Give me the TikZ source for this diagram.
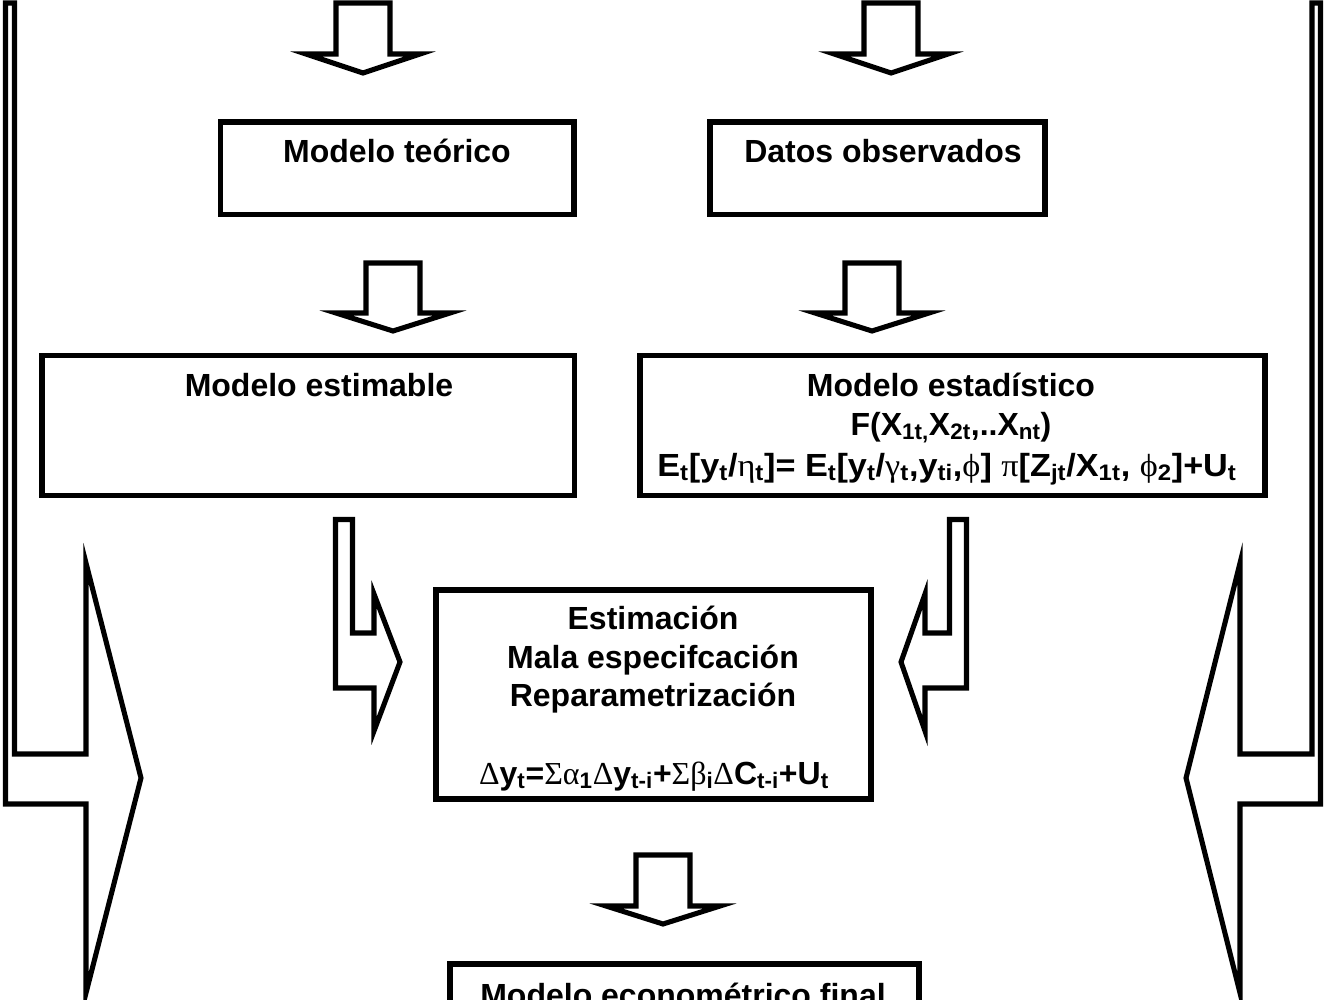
\documentclass[tikz,border=0pt]{standalone}
\usepackage{fontspec}
\setmainfont{Liberation Sans}
\newfontfamily\grk{Liberation Serif}
\newcommand{\sbs}[1]{\textsubscript{#1}}
\newcommand{\gk}[1]{{\grk\mdseries #1}}
\begin{document}
\begin{tikzpicture}[x=0.75pt,y=-0.75pt,
  box/.style={draw, line width=3.8pt, rectangle, inner sep=0pt},
  blk/.style={draw, line width=3.8pt, line join=miter, fill=white},
  txt/.style={anchor=base, inner sep=0pt, font=\fontsize{24}{30}\selectfont\bfseries}]
\useasboundingbox (0,0) rectangle (1326,999);
\clip (0,0) rectangle (1326,999);

% big side arrows
\draw[blk] (5.5,3) -- (5.5,804) -- (86,804) -- (86,993) -- (141,778) -- (86,563) -- (86,754) -- (14.5,754) -- (14.5,3) -- cycle;
\draw[blk] (1320.5,3) -- (1320.5,804) -- (1240,804) -- (1240,993) -- (1186,778) -- (1240,563) -- (1240,754) -- (1312,754) -- (1312,3) -- cycle;

% boxes
\node[box, minimum width=353.5*0.75pt, minimum height=92.5*0.75pt] (teo) at (397.25,168.25) {};
\node[box, minimum width=335*0.75pt, minimum height=92.5*0.75pt] (dat) at (877.5,168.25) {};
\node[box, minimum width=532.5*0.75pt, minimum height=140*0.75pt] (est) at (308.25,425.5) {};
\node[box, minimum width=625*0.75pt, minimum height=140*0.75pt] (sta) at (952.5,425.5) {};
\node[box, minimum width=435*0.75pt, minimum height=209*0.75pt] (emc) at (653.5,694.5) {};
\node[box, minimum width=469*0.75pt, minimum height=76*0.75pt] (fin) at (684.5,1002) {};

% down arrows
\draw[blk] (336,3) -- (390,3) -- (390,54) -- (420,54) -- (363,73) -- (306,54) -- (336,54) -- cycle;
\draw[blk] (864,3) -- (918,3) -- (918,54) -- (948,54) -- (891,73) -- (834,54) -- (864,54) -- cycle;
\draw[blk] (366,263) -- (420,263) -- (420,313) -- (450,313) -- (393,331) -- (336,313) -- (366,313) -- cycle;
\draw[blk] (845,263) -- (899,263) -- (899,313) -- (929,313) -- (872,331) -- (815,313) -- (845,313) -- cycle;
\draw[blk] (636,855) -- (690,855) -- (690,906) -- (720,906) -- (663,924) -- (606,906) -- (636,906) -- cycle;

% bent arrows
\draw[blk] (335.5,519.5) -- (352.5,519.5) -- (352.5,633) -- (374,633) -- (374,594) -- (400,662) -- (374,731) -- (374,688) -- (335.5,688) -- cycle;
\draw[blk] (966.5,519.5) -- (949.5,519.5) -- (949.5,633) -- (925,633) -- (925,594) -- (901,662) -- (925,731) -- (925,688) -- (966.5,688) -- cycle;

% texts
\node[txt] (tteo) at (397,162) {Modelo teórico};
\node[txt] (tdat) at (883,162) {Datos observados};
\node[txt] (test) at (319,396) {Modelo estimable};
\node[txt] (tsta1) at (951,396) {Modelo estadístico};
\node[txt] (tsta2) at (951,435) {F(X\sbs{1t,}X\sbs{2t},..X\sbs{nt})};
\node[txt] (tsta3) at (947,476) {\scalebox{1.07}[1]{E\sbs{t}[y\sbs{t}/\gk{η}\sbs{t}]= E\sbs{t}[y\sbs{t}/\gk{γ}\sbs{t},y\sbs{ti},\gk{ϕ}] \gk{π}[Z\sbs{jt}/X\sbs{1t}, \gk{ϕ}\sbs{2}]+U\sbs{t}}};
\node[txt] (te1) at (653,629) {Estimación};
\node[txt] (te2) at (653,668) {Mala especifcación};
\node[txt] (te3) at (653,706) {Reparametrización};
\node[txt] (te4) at (654,784) {\gk{Δ}y\sbs{t}=\gk{Σα}\sbs{1}\gk{Δ}y\sbs{t-i}+\gk{Σβ}\sbs{i}\gk{Δ}C\sbs{t-i}+U\sbs{t}};
\node[txt] (tfin) at (683,1006) {Modelo econométrico final};
\end{tikzpicture}
\end{document}
